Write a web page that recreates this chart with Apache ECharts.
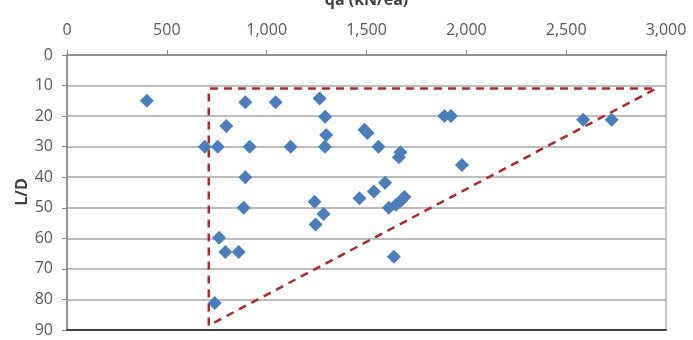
<!DOCTYPE html>
<html>
<head>
<meta charset="utf-8">
<script src="https://cdn.jsdelivr.net/npm/echarts@6/dist/echarts.min.js"></script>
<style>html,body{margin:0;padding:0;background:#fff;}#c{width:693px;height:340px;}</style>
</head>
<body>
<div id="c"></div>
<script>
var qa = [400, 690, 755, 893, 1045, 1265, 1293, 798, 915, 1120, 1298, 1292, 893, 885, 1240, 1285, 1245, 762, 793, 860, 740, 1890, 1923, 1490, 1505, 1560, 1670, 1662, 1978, 1593, 1465, 1537, 1612, 1648, 1690, 1675, 1637, 2585, 2728];
var LD = [15, 30, 30, 15.5, 15.5, 14.2, 20.2, 23.2, 30, 30, 26.2, 30, 40, 50, 48, 52, 55.5, 59.8, 64.5, 64.5, 81.2, 20, 20, 24.5, 25.5, 30, 31.8, 33.5, 36, 41.8, 46.9, 44.7, 50, 49, 46.5, 47.5, 66, 21.2, 21.2];
var boundQa = [710, 710, 2950, 710];
var boundLD = [88.5, 11, 11, 88.5];
var xTicks = {min: 0, max: 3000, step: 500};
var yTicks = {min: 0, max: 90, step: 10};

var pts = qa.map(function (v, i) { return [v, LD[i]]; });
var bound = boundQa.map(function (v, i) { return [v, boundLD[i]]; });
var font = "'Open Sans', sans-serif";

var chart = echarts.init(document.getElementById('c'));
chart.setOption({
  animation: false,
  grid: {left: 67, right: 27, top: 55, bottom: 10, show: true, borderColor: '#8c8c8c', borderWidth: 1,
    containLabel: false, outerBoundsMode: 'none'},
  graphic: [{
    type: 'text', x: 22, y: 192, rotation: Math.PI / 2,
    style: {text: 'L/D', fontFamily: font, fontWeight: 'bold', fontSize: 16, fill: '#404040',
      align: 'center', verticalAlign: 'middle'}
  }],
  xAxis: [{
    type: 'value', position: 'top', min: xTicks.min, max: xTicks.max, interval: xTicks.step,
    name: 'qa (kN/ea)', nameLocation: 'middle', nameGap: 47,
    nameTextStyle: {fontFamily: font, fontWeight: 'bold', fontSize: 16, color: '#404040'},
    axisLine: {show: true, lineStyle: {color: '#868686', width: 1.5}},
    axisTick: {show: true, inside: false, length: 5, lineStyle: {color: '#868686'}},
    axisLabel: {fontFamily: font, fontSize: 16, color: '#595959', margin: 17,
      formatter: function (v) { return v.toLocaleString('en-US'); }},
    splitLine: {show: false}
  }, {
    type: 'value', position: 'bottom', min: xTicks.min, max: xTicks.max,
    axisLine: {show: true, onZero: false, lineStyle: {color: '#404040', width: 2}},
    axisTick: {show: false}, axisLabel: {show: false}, splitLine: {show: false}
  }],
  yAxis: {
    type: 'value', inverse: true, min: yTicks.min, max: yTicks.max, interval: yTicks.step,
    axisLine: {show: true, lineStyle: {color: '#868686', width: 1.5}},
    axisTick: {show: true, inside: false, length: 5, lineStyle: {color: '#868686'}},
    axisLabel: {fontFamily: font, fontSize: 16, color: '#595959', margin: 14},
    splitLine: {show: true, lineStyle: {color: '#a6a6a6', width: 1.5}}
  },
  series: [{
    type: 'line', data: bound, xAxisIndex: 0, showSymbol: false, symbol: 'none',
    lineStyle: {color: '#b0282c', width: 2.5, type: [8, 6]}, z: 3, silent: true
  }, {
    type: 'scatter', data: pts, xAxisIndex: 0, symbol: 'diamond', symbolSize: [14, 14],
    itemStyle: {color: '#4a7ebb', opacity: 1}, z: 4
  }]
});
</script>
</body>
</html>
